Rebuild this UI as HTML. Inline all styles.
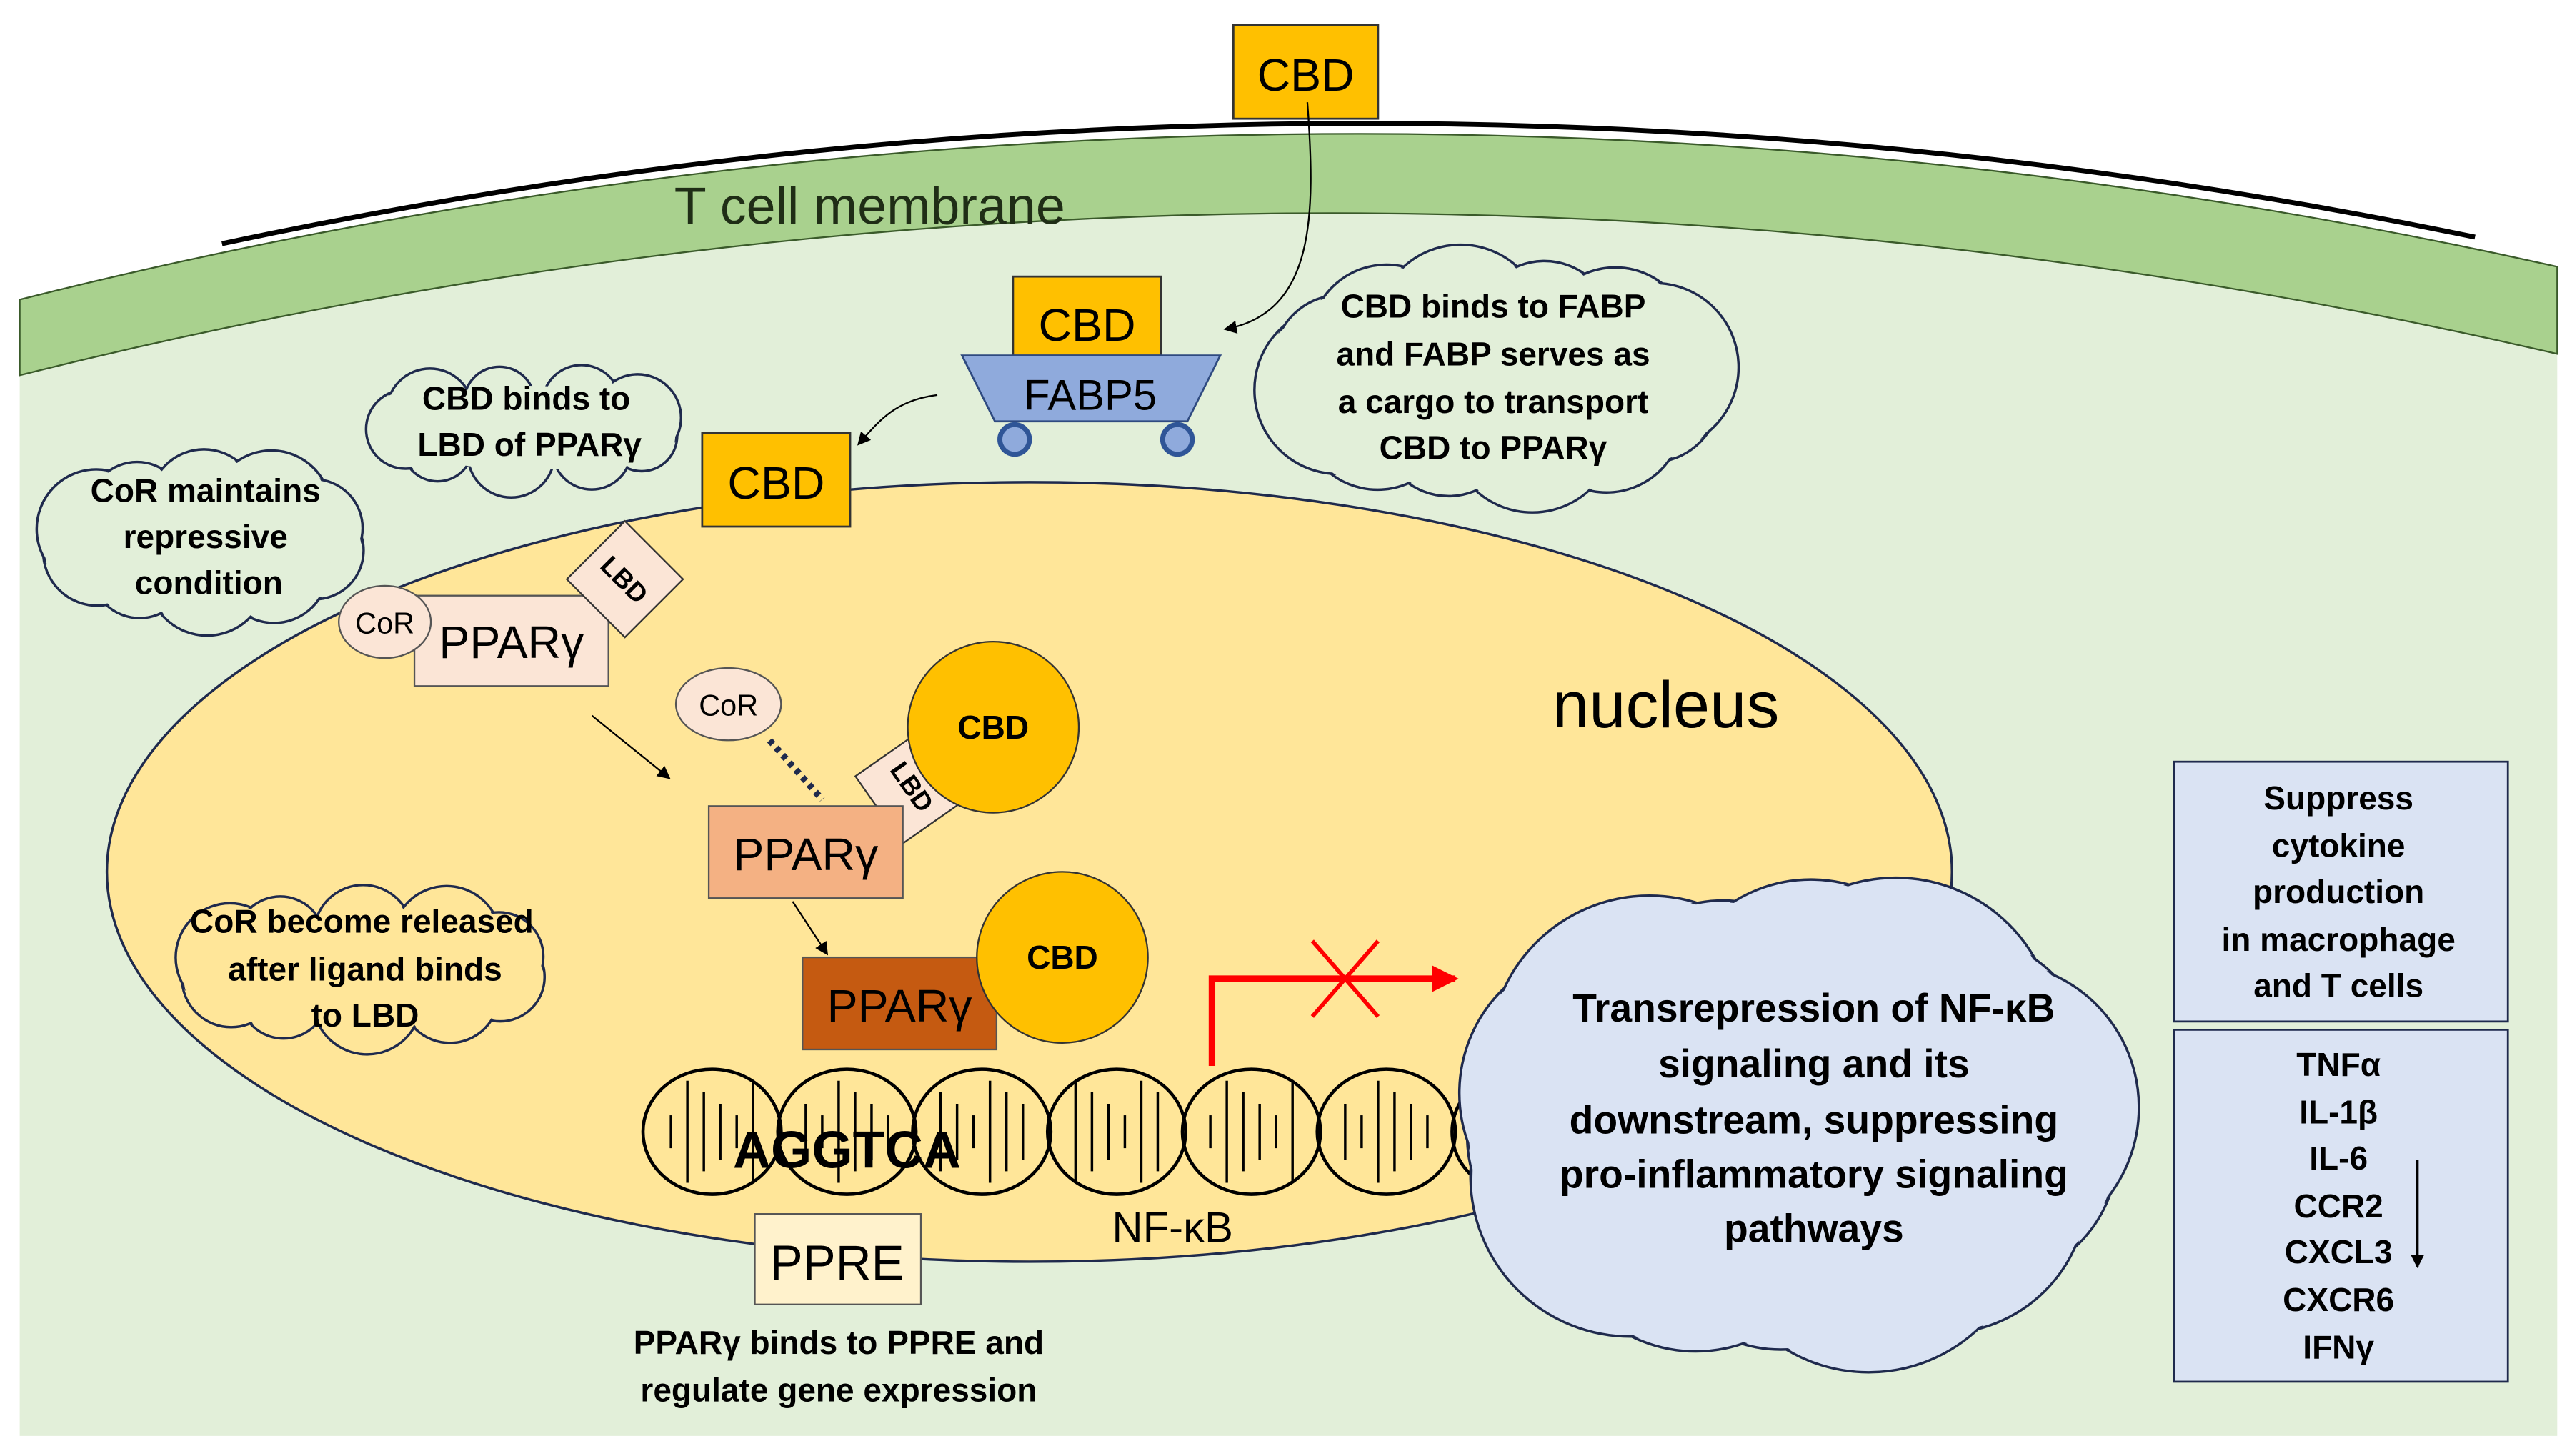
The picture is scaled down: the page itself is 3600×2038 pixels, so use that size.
<!DOCTYPE html>
<html><head><meta charset="utf-8">
<style>
html,body{margin:0;padding:0;background:#fff;}
svg{display:block;}
text{font-family:"Liberation Sans",sans-serif;}
.b{font-weight:bold;}
</style></head>
<body>
<svg id="s" width="3600" height="2038" viewBox="0 0 1564 885" xmlns="http://www.w3.org/2000/svg">
<defs>
<marker id="ah" markerWidth="8" markerHeight="8" refX="7" refY="4" orient="auto" markerUnits="userSpaceOnUse"><path d="M0,0 L8,4 L0,8 Z" fill="#000"/></marker>
<marker id="rh" markerWidth="16" markerHeight="16" refX="14" refY="8" orient="auto" markerUnits="userSpaceOnUse"><path d="M0,0 L16,8 L0,16 Z" fill="#f00"/></marker>
</defs>
<rect width="1564" height="885" fill="#fff"/>
<!-- cell -->
<path d="M12,228 A3283,3283 0 0 1 1555,215 L1555,873 L12,873 Z" fill="#e2efd9"/>
<path d="M12,182 A3333,3333 0 0 1 1555,162 L1555,215 A3283,3283 0 0 0 12,228 Z" fill="#a9d18e" stroke="#3a5a2a" stroke-width="1"/>
<path d="M135,148 A3333,3333 0 0 1 1505,144" fill="none" stroke="#000" stroke-width="3"/>
<text x="410" y="136" font-size="32" fill="#1f2d16">T cell membrane</text>
<!-- nucleus -->
<ellipse cx="626" cy="530" rx="561" ry="237" fill="#ffe699" stroke="#1f2a4d" stroke-width="1.5"/>
<text x="1013" y="442" font-size="40" text-anchor="middle">nucleus</text>

<g id="clouds"></g>

<!-- top CBD -->
<rect x="750" y="15" width="88" height="57" fill="#ffc000" stroke="#333" stroke-width="1.2"/>
<text x="794" y="55" font-size="28" text-anchor="middle">CBD</text>
<path d="M795,62 C800,130 800,190 745,200" fill="none" stroke="#000" stroke-width="1" marker-end="url(#ah)"/>
<!-- FABP5 cart -->
<rect x="616" y="168" width="90" height="48" fill="#ffc000" stroke="#333" stroke-width="1.2"/>
<text x="661" y="207" font-size="28" text-anchor="middle">CBD</text>
<path d="M585,216 L742,216 L722,256 L605,256 Z" fill="#8faadc" stroke="#2f4a80" stroke-width="1.2"/>
<text x="663" y="249" font-size="26" text-anchor="middle">FABP5</text>
<circle cx="617" cy="267" r="9" fill="#8faadc" stroke="#2f5597" stroke-width="3"/>
<circle cx="716" cy="267" r="9" fill="#8faadc" stroke="#2f5597" stroke-width="3"/>
<path d="M570,240 C545,243 535,255 522,270" fill="none" stroke="#000" stroke-width="1" marker-end="url(#ah)"/>
<rect x="427" y="263" width="90" height="57" fill="#ffc000" stroke="#333" stroke-width="1.2"/>
<text x="472" y="303" font-size="28" text-anchor="middle">CBD</text>

<!-- PPAR 1 -->
<rect x="252" y="362" width="118" height="55" fill="#fbe5d6" stroke="#555" stroke-width="1"/>
<text x="311" y="400" font-size="28" text-anchor="middle">PPARγ</text>
<g transform="translate(380,352) rotate(45)"><rect x="-25" y="-25" width="50" height="50" fill="#fbe5d6" stroke="#333" stroke-width="1"/><text x="0" y="6" font-size="16" class="b" text-anchor="middle">LBD</text></g>
<ellipse cx="234" cy="378" rx="28" ry="22" fill="#fbe5d6" stroke="#555" stroke-width="1"/>
<text x="234" y="385" font-size="18" text-anchor="middle">CoR</text>
<line x1="360" y1="435" x2="407" y2="473" stroke="#000" stroke-width="1" marker-end="url(#ah)"/>

<!-- PPAR 2 -->
<ellipse cx="443" cy="428" rx="32" ry="22" fill="#fbe5d6" stroke="#555" stroke-width="1"/>
<text x="443" y="435" font-size="18" text-anchor="middle">CoR</text>
<line x1="468" y1="450" x2="500" y2="486" stroke="#1f2a4d" stroke-width="4" stroke-dasharray="3,3"/>
<g transform="translate(555,478) rotate(55)"><rect x="-25" y="-25" width="50" height="50" fill="#fbe5d6" stroke="#333" stroke-width="1"/><text x="0" y="6" font-size="16" class="b" text-anchor="middle">LBD</text></g>
<circle cx="604" cy="442" r="52" fill="#ffc000" stroke="#333" stroke-width="1"/>
<text x="604" y="449" font-size="20" class="b" text-anchor="middle">CBD</text>
<rect x="431" y="490" width="118" height="56" fill="#f4b183" stroke="#555" stroke-width="1"/>
<text x="490" y="529" font-size="28" text-anchor="middle">PPARγ</text>
<line x1="482" y1="548" x2="503" y2="580" stroke="#000" stroke-width="1" marker-end="url(#ah)"/>

<!-- PPAR 3 -->
<rect x="488" y="582" width="118" height="56" fill="#c55a11" stroke="#555" stroke-width="1"/>
<text x="547" y="621" font-size="28" text-anchor="middle">PPARγ</text>
<circle cx="646" cy="582" r="52" fill="#ffc000" stroke="#333" stroke-width="1"/>
<text x="646" y="589" font-size="20" class="b" text-anchor="middle">CBD</text>

<!-- DNA -->
<g id="dna" fill="none" stroke="#000" stroke-width="2"></g>
<g id="bigcloud"></g>
<text x="515" y="710" font-size="32" class="b" text-anchor="middle">AGGTCA</text>
<text x="713" y="755" font-size="26" text-anchor="middle">NF-κB</text>
<path d="M737,648 V595 H885" fill="none" stroke="#f00" stroke-width="4" marker-end="url(#rh)"/>
<path d="M798,572 L838,618 M838,572 L798,618" stroke="#f00" stroke-width="2.5"/>

<!-- PPRE -->
<rect x="459" y="738" width="101" height="55" fill="#fff2cc" stroke="#555" stroke-width="1"/>
<text x="509" y="778" font-size="30" text-anchor="middle">PPRE</text>
<text x="510" y="823" font-size="20" class="b" text-anchor="middle">PPARγ binds to PPRE and</text>
<text x="510" y="852" font-size="20" class="b" text-anchor="middle">regulate gene expression</text>

<!-- cloud texts -->
<g id="ctext" class="b" text-anchor="middle" font-size="20">
<text x="908" y="193">CBD binds to FABP</text>
<text x="908" y="222">and FABP serves as</text>
<text x="908" y="251">a cargo to transport</text>
<text x="908" y="279">CBD to PPARγ</text>
<text x="320" y="249">CBD binds to</text>
<text x="322" y="277">LBD of PPARγ</text>
<text x="125" y="305">CoR maintains</text>
<text x="125" y="333">repressive</text>
<text x="127" y="361">condition</text>
<text x="220" y="567">CoR become released</text>
<text x="222" y="596">after ligand binds</text>
<text x="222" y="624">to LBD</text>
<g font-size="24">
<text x="1103" y="621">Transrepression of NF-κB</text>
<text x="1103" y="655">signaling and its</text>
<text x="1103" y="689">downstream, suppressing</text>
<text x="1103" y="722">pro-inflammatory signaling</text>
<text x="1103" y="755">pathways</text>
</g>
</g>

<!-- right boxes -->
<rect x="1322" y="463" width="203" height="158" fill="#dae3f3" stroke="#1f2a4d" stroke-width="1.2"/>
<rect x="1322" y="626" width="203" height="214" fill="#dae3f3" stroke="#1f2a4d" stroke-width="1.2"/>
<g class="b" font-size="20" text-anchor="middle">
<text x="1422" y="492">Suppress</text>
<text x="1422" y="521">cytokine</text>
<text x="1422" y="549">production</text>
<text x="1422" y="578">in macrophage</text>
<text x="1422" y="606">and T cells</text>
<text x="1422" y="654">TNFα</text>
<text x="1422" y="683">IL-1β</text>
<text x="1422" y="711">IL-6</text>
<text x="1422" y="740">CCR2</text>
<text x="1422" y="768">CXCL3</text>
<text x="1422" y="797">CXCR6</text>
<text x="1422" y="826">IFNγ</text>
</g>
<line x1="1470" y1="705" x2="1470" y2="770" stroke="#000" stroke-width="1.5" marker-end="url(#ah)"/>
</svg>
<script>
var NS="http://www.w3.org/2000/svg";
function el(p,t,a){var e=document.createElementNS(NS,t);for(var k in a)e.setAttribute(k,a[k]);p.appendChild(e);return e;}
function cloud(tgt,cx,cy,w,h,n,fill){
  var g=el(document.getElementById(tgt),"g",{});var r=Math.min(w,h)*0.3;var pts=[];
  for(var i=0;i<n;i++){var a=2*Math.PI*i/n+0.3;pts.push([cx+(w/2-r)*Math.cos(a),cy+(h/2-r)*Math.sin(a),r*(0.9+0.2*((i*7)%3)/2)]);}
  pts.forEach(function(p){el(g,"circle",{cx:p[0],cy:p[1],r:p[2],fill:fill,stroke:"#1f2a4d","stroke-width":1.5});});
  pts.forEach(function(p){el(g,"circle",{cx:p[0],cy:p[1],r:p[2]-1.2,fill:fill});});
  el(g,"ellipse",{cx:cx,cy:cy,rx:w/2-r*0.6,ry:h/2-r*0.6,fill:fill});
}
cloud("clouds",910,230,290,155,12,"#e2efd9");
cloud("clouds",320,260,195,80,9,"#e2efd9");
cloud("clouds",125,328,205,110,10,"#e2efd9");
cloud("clouds",222,588,232,100,10,"#ffe699");
cloud("bigcloud",1092,682,420,295,14,"#dae3f3");
var d=document.getElementById("dna");
for(var i=0;i<7;i++){
  var x=392+i*82;
  el(d,"ellipse",{cx:x+41,cy:688,rx:42,ry:38});
  for(var j=0;j<6;j++){var lx=x+16+j*10;var hh=10+((i*5+j*3)%4)*7;el(d,"line",{x1:lx,y1:688-hh,x2:lx,y2:688+hh,"stroke-width":1.5});}
}
</script>
</body></html>
